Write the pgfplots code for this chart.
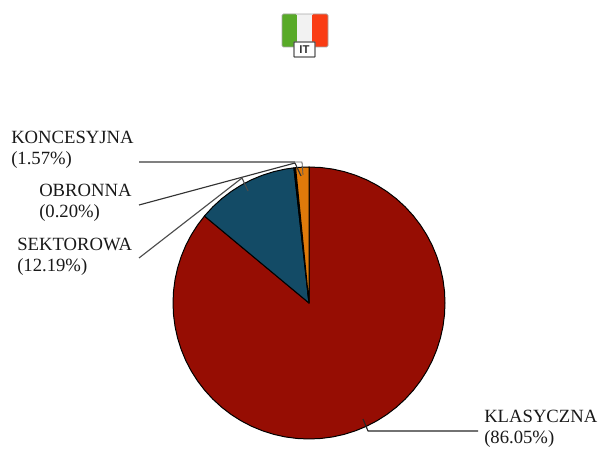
\documentclass[border=0pt]{standalone}
\usepackage{pgfplots}
\pgfplotsset{compat=1.18}
\usepackage{fontspec}
\setmainfont{Liberation Serif}
\setsansfont{Liberation Sans}
\definecolor{kred}{RGB}{150,13,3}
\definecolor{kblue}{RGB}{19,75,102}
\definecolor{korange}{RGB}{224,122,10}
\definecolor{fgreen}{RGB}{88,170,40}
\definecolor{fred}{RGB}{250,60,20}
\begin{document}
\begin{tikzpicture}
\begin{axis}[
  at={(0,0)}, anchor=south west,
  scale only axis, width=450pt, height=337.5pt,
  xmin=-309, xmax=291, ymin=-147, ymax=303,
  hide axis, clip=false, no markers,
  every axis plot/.append style={line join=round},
]
\path (axis cs:-309,303) rectangle (axis cs:291,-147);
% flag (pixel y -> 303-py, pixel x -> px-309)
\fill[fgreen, rounded corners=1pt] (axis cs:-27,289) rectangle (axis cs:-12,256);
\fill[gray!10] (axis cs:-12,289) rectangle (axis cs:3,256);
\fill[fred, rounded corners=1pt] (axis cs:3,289) rectangle (axis cs:19,256);
\draw[gray!70, rounded corners=1pt, line width=.6pt] (axis cs:-27,289) rectangle (axis cs:19,256);
\draw[fill=white, draw=black!65, line width=1pt, rounded corners=.5pt] (axis cs:-15,261) rectangle (axis cs:6,246);
\node[font=\sffamily\bfseries\fontsize{8.5pt}{9pt}\selectfont, text=black!80, inner sep=0pt] at (axis cs:-4.5,253.5) {IT};
% pie
\addplot[draw=black, line width=.75pt, fill=kred, data cs=polar] coordinates {
(0,0)(90,136)(85,136)(80,136)(75,136)(70,136)(65,136)(60,136)(55,136)(50,136)(45,136)(40,136)
(35,136)(30,136)(25,136)(20,136)(15,136)(10,136)(5,136)(0,136)(-5,136)(-10,136)(-15,136)(-20,136)
(-25,136)(-30,136)(-35,136)(-40,136)(-45,136)(-50,136)(-55,136)(-60,136)(-65,136)(-70,136)(-75,136)
(-80,136)(-85,136)(-90,136)(-95,136)(-100,136)(-105,136)(-110,136)(-115,136)(-120,136)(-125,136)
(-130,136)(-135,136)(-140,136)(-145,136)(-150,136)(-155,136)(-160,136)(-165,136)(-170,136)(-175,136)
(-180,136)(-185,136)(-190,136)(-195,136)(-200,136)(-205,136)(-210,136)(-215,136)(-219.75,136)(0,0)
} -- cycle;
\addplot[draw=black, line width=.75pt, fill=kblue, data cs=polar] coordinates {
(0,0)(96.37,136)(100,136)(105,136)(110,136)(115,136)(120,136)(125,136)(130,136)(135,136)(140,136)(140.25,136)(0,0)
} -- cycle;
\addplot[draw=black, line width=.75pt, fill=black, data cs=polar] coordinates {
(0,0)(95.65,136)(96.37,136)(0,0)
} -- cycle;
\addplot[draw=black, line width=.75pt, fill=korange, data cs=polar] coordinates {
(0,0)(90,136)(92,136)(94,136)(95.65,136)(0,0)
} -- cycle;
% leader lines
\addplot[draw=black!50, line width=1.6pt] coordinates {(-170,141)(-14,141)};
\addplot[draw=black!65, line width=.6pt] coordinates {(-14,141)(-7,141)(-6,128)};
\addplot[draw=black!80, line width=.85pt] coordinates {(-170,98)(-14,140)(-8,127)};
\addplot[draw=black!70, line width=.85pt] coordinates {(-170,45)(-67,125)(-61,112)};
\addplot[draw=black!85, line width=.85pt] coordinates {(54,-116)(59,-128)(169,-128)};
% labels
\tikzset{lab/.style={anchor=north west, inner sep=0pt, align=left, text=black!90,
  font=\fontsize{14pt}{16pt}\selectfont}}
\node[lab] at (axis cs:-298,172) {KONCESYJNA\\(1.57\%)};
\node[lab] at (axis cs:-270,119) {OBRONNA\\(0.20\%)};
\node[lab] at (axis cs:-292,65) {SEKTOROWA\\(12.19\%)};
\node[lab] at (axis cs:175,-107) {KLASYCZNA\\(86.05\%)};
\end{axis}
\end{tikzpicture}
\end{document}
